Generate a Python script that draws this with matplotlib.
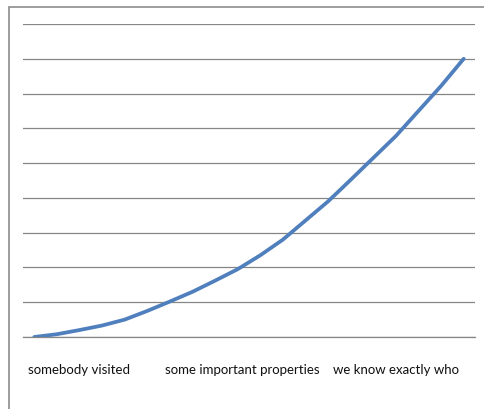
import matplotlib
matplotlib.use('Agg')
import matplotlib.pyplot as plt
import matplotlib.patches as mpatches
import numpy as np

# series values (20 categories)
values = [0.00, 0.08, 0.20, 0.33, 0.50, 0.75, 1.02, 1.30, 1.62, 1.95,
          2.35, 2.80, 3.35, 3.90, 4.52, 5.15, 5.78, 6.50, 7.22, 8.00]
tick_labels = ['somebody visited', 'some important properties', 'we know exactly who']
tick_index = [2.0, 9.2, 16.0]

line_col = '#4F7FBD'
grid_col = '#868686'

fig = plt.figure(figsize=(4.84, 4.10), dpi=100)
ax = fig.add_axes([23/484, 1 - 338/410, (475-23)/484, (338-25)/410])

x = np.arange(len(values))
ax.plot(x, values, color=line_col, lw=2.7, solid_capstyle='round',
        solid_joinstyle='round')

ax.set_xlim(-0.5, len(values) - 0.5)
ax.set_ylim(0, 9)
ax.set_yticks(np.arange(0, 10, 1))
ax.yaxis.grid(True, color=grid_col, lw=0.9)
ax.set_axisbelow(True)
ax.tick_params(axis='y', left=False, labelleft=False)
ax.set_xticks(tick_index)
ax.set_xticklabels(tick_labels, fontsize=9.5, family='Lato', color='#111111')
ax.tick_params(axis='x', bottom=False, pad=15)
for s in ['top', 'right', 'left']:
    ax.spines[s].set_visible(False)
ax.spines['bottom'].set_color(grid_col)
ax.spines['bottom'].set_linewidth(0.9)

# outer chart frame
fig.patches.append(mpatches.Rectangle((9/484, -0.1), 1.2, 1 - 8/410 + 0.1,
                                      transform=fig.transFigure, fill=False,
                                      edgecolor='#8c8c8c', lw=1.2))

fig.savefig('out.png', dpi=100)
